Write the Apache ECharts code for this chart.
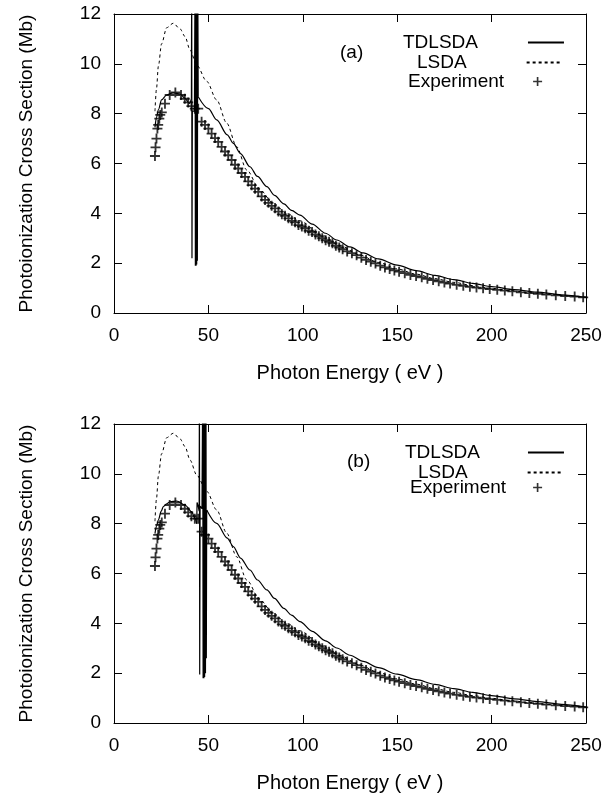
<!DOCTYPE html>
<html>
<head>
<meta charset="utf-8">
<title>Photoionization Cross Section</title>
<script src="https://cdn.jsdelivr.net/npm/echarts@6/dist/echarts.min.js"></script>
<style>
    html, body { margin: 0; padding: 0; background: #fff; }
    #chart { width: 615px; height: 800px; }
</style>
</head>
<body>
<div id="chart"></div>
<script>
var FONT = '"Liberation Sans", Arial, Helvetica, sans-serif';

// measured points (same in both panels)
var expEnergy = [21.7, 22.0, 22.5, 23.0, 23.4, 24.0, 24.5, 25.3, 27.0, 29.5, 32.5, 35.5, 37.5, 39.3, 41.0, 42.8,
    44.6, 46.4, 48.2, 50.0, 51.7, 53.5, 55.2, 57.0, 58.8, 60.5, 62.3, 64.1, 65.8, 67.6, 69.4, 71.1, 72.9,
    74.7, 76.4, 78.2, 80.0, 81.8, 83.5, 85.3, 87.1, 88.9, 90.6, 92.4, 94.2, 95.9, 97.7, 99.5, 101.3,
    103.1, 104.9, 106.7, 108.5, 110.3, 112.1, 113.9, 115.7, 117.5, 119.3, 121.1, 123.5, 126.0, 128.5,
    131.0, 133.5, 136.0, 138.5, 141.0, 143.5, 146.0, 148.5, 151.0, 154.0, 157.0, 160.0, 163.0, 166.0,
    169.0, 172.0, 175.0, 178.0, 181.5, 185.0, 188.5, 192.0, 195.5, 199.0, 203.0, 207.0, 211.0, 215.5,
    220.0, 224.5, 229.0, 234.0, 239.0, 244.0, 248.5];
var expSigma = [6.3, 6.65, 7.0, 7.4, 7.55, 7.8, 7.95, 8.05, 8.4, 8.75, 8.85, 8.75, 8.6, 8.45, 8.3, 8.2,
    8.2, 7.68, 7.55, 7.4, 7.2, 7.02, 6.87, 6.67, 6.48, 6.33, 6.14, 5.95, 5.8, 5.62, 5.46, 5.28, 5.13,
    4.99, 4.86, 4.68, 4.54, 4.42, 4.3, 4.2, 4.07, 3.96, 3.9, 3.8, 3.7, 3.64, 3.53, 3.47, 3.4,
    3.3, 3.25, 3.15, 3.08, 3.0, 2.92, 2.86, 2.8, 2.7, 2.63, 2.56, 2.47, 2.4, 2.32,
    2.22, 2.13, 2.06, 1.99, 1.9, 1.83, 1.77, 1.71, 1.66, 1.6, 1.53, 1.48, 1.43, 1.37,
    1.32, 1.27, 1.22, 1.18, 1.13, 1.09, 1.05, 1.02, 0.99, 0.96, 0.93, 0.9, 0.87, 0.83,
    0.8, 0.77, 0.74, 0.71, 0.68, 0.66, 0.63];

// LSDA (same in both panels)
var lsdaEnergy = [21.7, 22.5, 23.5, 25.2, 27.9, 31.4, 35.0, 37.6, 40.3, 43.8, 49.1, 54.4, 59.7, 65.0,
    70.3, 77.3, 84.4, 91.5, 98.5, 110, 120, 130, 140, 150, 160, 170, 180, 190, 200, 210, 220, 230, 240, 250];
var lsdaSigma = [8.1, 9.0, 9.9, 10.8, 11.45, 11.63, 11.4, 11.1, 10.55, 9.95, 9.3, 8.55, 7.62, 6.67,
    5.74, 4.94, 4.4, 4.0, 3.7, 3.12, 2.7, 2.33, 2.03, 1.77, 1.56, 1.38, 1.23, 1.1, 0.99, 0.9, 0.82, 0.75, 0.69, 0.64];

// TDLSDA, panel (a)
var tdaLowE = [21.7, 22.5, 23.5, 25.2, 27.9, 31.4, 35.0, 37.6, 39.9, 41.0];
var tdaLowS = [7.45, 7.85, 8.15, 8.55, 8.75, 8.84, 8.79, 8.61, 8.41, 8.6];
var tdaResE = [41.0, 41.15, 41.3, 41.5, 42.6, 42.95, 43.1, 43.3, 43.45, 43.65, 43.8, 44.0, 44.15, 44.35, 44.6];
var tdaResS = [8.6, 14, 2.2, 8.1, 8.1, 14, 1.9, 14, 1.9, 14, 1.95, 14, 2.1, 14, 8.68];
var tdaHighE = [44.6, 50, 54.4, 60, 63.2, 67, 72, 76, 81, 85, 90, 94, 98.5, 105, 112, 118, 125, 132, 140,
    150, 160, 170, 180, 190, 200, 212, 224, 237, 250];
var tdaHighS = [8.68, 8.2, 7.75, 7.15, 6.81, 6.4, 5.87, 5.48, 5.07, 4.72, 4.38, 4.12, 3.93, 3.57, 3.2, 2.93,
    2.65, 2.41, 2.17, 1.92, 1.7, 1.51, 1.34, 1.19, 1.06, 0.94, 0.84, 0.73, 0.63];

// TDLSDA, panel (b)
var tdbLowE = [21.7, 22.5, 23.5, 25.0, 26.1, 27.9, 29.7, 33.2, 37.6, 41.1, 42.9, 43.8];
var tdbLowS = [7.6, 7.9, 8.15, 8.5, 8.68, 8.8, 8.88, 8.91, 8.75, 8.48, 8.21, 8.0];
var tdbResE = [43.8, 44.0, 44.6, 45.1, 45.25, 45.4, 45.6, 46.6, 47.0, 47.2, 47.4, 47.6, 47.8, 48.0, 48.2,
    48.45, 48.7, 48.9, 49.1];
var tdbResS = [8.0, 8.85, 8.7, 8.5, 14, 1.95, 8.7, 8.6, 14, 1.8, 14, 1.8, 14, 1.85, 14, 2.0, 14, 2.6, 8.55];
var tdbHighE = [49.1, 54.4, 60, 63.2, 67, 72, 76, 81, 85, 90, 94, 98.5, 105, 112, 118, 125, 132, 140,
    150, 160, 170, 180, 190, 200, 212, 224, 237, 250];
var tdbHighS = [8.55, 8.01, 7.42, 7.08, 6.62, 6.14, 5.74, 5.34, 5.0, 4.6, 4.33, 4.07, 3.68, 3.3, 3.01, 2.72,
    2.47, 2.22, 1.96, 1.74, 1.55, 1.38, 1.23, 1.1, 0.97, 0.86, 0.75, 0.64];

var plusSymbol = 'path://M4,0H5.8V4H9.8V5.8H5.8V9.8H4V5.8H0V4H4Z';

function pairs(xs, ys) {
    var out = [];
    for (var i = 0; i < xs.length; i++) {
        out.push([xs[i], ys[i]]);
    }
    return out;
}

function xAxes(gridIndex) {
    var base = {
        gridIndex: gridIndex, type: 'value', min: 0, max: 250, interval: 50,
        axisLine: {show: true, onZero: false, lineStyle: {color: '#000', width: 1}},
        axisTick: {show: true, inside: true, length: 8, lineStyle: {color: '#000'}},
        splitLine: {show: false}
    };
    var bottom = Object.assign({}, base, {
        position: 'bottom',
        name: 'Photon Energy ( eV )',
        nameLocation: 'middle',
        nameGap: 50,
        nameTextStyle: {fontFamily: FONT, fontSize: 20, color: '#000'},
        axisLabel: {fontFamily: FONT, fontSize: 19, color: '#000', margin: 13, showMinLabel: true, showMaxLabel: true}
    });
    var top = Object.assign({}, base, {position: 'top', axisLabel: {show: false}});
    return [bottom, top];
}

function yAxes(gridIndex) {
    var base = {
        gridIndex: gridIndex, type: 'value', min: 0, max: 12, interval: 2,
        axisLine: {show: true, onZero: false, lineStyle: {color: '#000', width: 1}},
        axisTick: {show: true, inside: true, length: 8, lineStyle: {color: '#000'}},
        splitLine: {show: false}
    };
    var left = Object.assign({}, base, {
        position: 'left',
        name: 'Photoionization Cross Section (Mb)',
        nameLocation: 'middle',
        nameGap: 78,
        nameTextStyle: {fontFamily: FONT, fontSize: 19, color: '#000'},
        axisLabel: {fontFamily: FONT, fontSize: 19, color: '#000', margin: 13, showMinLabel: true, showMaxLabel: true}
    });
    var right = Object.assign({}, base, {position: 'right', axisLabel: {show: false}});
    return [left, right];
}

function curve(name, axis, xs, ys, smooth, dashed) {
    return {
        name: name, type: 'line',
        xAxisIndex: axis, yAxisIndex: axis,
        data: pairs(xs, ys),
        symbol: 'none', showSymbol: false,
        smooth: smooth ? 0.3 : false,
        smoothMonotone: 'x',
        clip: true,
        lineStyle: {color: '#000', width: dashed ? 1 : 1.2, type: dashed ? [3, 3] : 'solid'},
        itemStyle: {color: '#000'},
        z: dashed ? 2 : 3
    };
}

function points(axis) {
    return {
        name: 'Experiment', type: 'scatter',
        xAxisIndex: axis, yAxisIndex: axis,
        data: pairs(expEnergy, expSigma),
        symbol: plusSymbol, symbolSize: 10, symbolKeepAspect: true,
        itemStyle: {color: '#000'},
        z: 4
    };
}

function legendItem(name, left, top, padRight, icon) {
    var item = {name: name};
    if (icon) item.icon = icon;
    return {
        data: [item], left: left, top: top, orient: 'vertical', align: 'right', padding: 0,
        itemWidth: icon ? 9 : 36, itemHeight: icon ? 9 : 14, selectedMode: false,
        // hide the dot that line series put in the middle of their legend sample
        itemStyle: icon ? {} : {opacity: 0},
        textStyle: {fontFamily: FONT, fontSize: 19, color: '#000', padding: [0, padRight, 0, 0]}
    };
}

var myChart = echarts.init(document.getElementById('chart'));

myChart.setOption({
    backgroundColor: '#fff',
    animation: false,
    textStyle: {fontFamily: FONT},
    title: [
        {text: '(a)', left: 340, top: 43, padding: 0, textStyle: {fontFamily: FONT, fontSize: 19, fontWeight: 'normal', color: '#000'}},
        {text: '(b)', left: 347, top: 452, padding: 0, textStyle: {fontFamily: FONT, fontSize: 19, fontWeight: 'normal', color: '#000'}}
    ],
    legend: [
        legendItem('TDLSDA', 403, 33, 45),
        legendItem('LSDA', 417, 53, 55),
        legendItem('Experiment', 408, 72, 24, plusSymbol),
        legendItem('TDLSDA', 405, 443, 43),
        legendItem('LSDA', 418, 463, 55),
        legendItem('Experiment', 410, 478, 22, plusSymbol)
    ],
    grid: [
        {left: 114, top: 14, width: 472, height: 299, outerBoundsMode: 'none'},
        {left: 114, top: 424, width: 472, height: 299, outerBoundsMode: 'none'}
    ],
    xAxis: xAxes(0).concat(xAxes(1)),
    yAxis: yAxes(0).concat(yAxes(1)),
    series: [
        curve('LSDA', 0, lsdaEnergy, lsdaSigma, true, true),
        curve('TDLSDA', 0, tdaLowE, tdaLowS, true, false),
        curve('TDLSDA', 0, tdaResE, tdaResS, false, false),
        curve('TDLSDA', 0, tdaHighE, tdaHighS, true, false),
        points(0),
        curve('LSDA', 2, lsdaEnergy, lsdaSigma, true, true),
        curve('TDLSDA', 2, tdbLowE, tdbLowS, true, false),
        curve('TDLSDA', 2, tdbResE, tdbResS, false, false),
        curve('TDLSDA', 2, tdbHighE, tdbHighS, true, false),
        points(2)
    ]
});
</script>
</body>
</html>
